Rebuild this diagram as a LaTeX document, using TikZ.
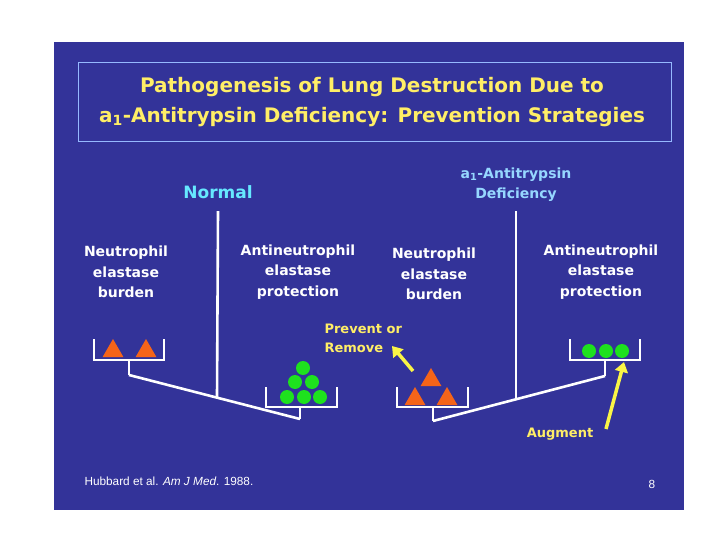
\documentclass[tikz,border=0pt]{standalone}
\usepackage{fontspec}
\setmainfont{DejaVu Sans}
\newfontfamily\citefont{Liberation Sans}
\usetikzlibrary{arrows.meta,positioning,shapes.geometric}
\definecolor{slideblue}{RGB}{51,51,153}
\definecolor{frameblue}{RGB}{150,185,255}
\definecolor{titleyellow}{RGB}{255,238,102}
\definecolor{normalcyan}{RGB}{102,232,255}
\definecolor{deficblue}{RGB}{150,215,255}
\definecolor{elastorange}{RGB}{245,100,25}
\definecolor{protgreen}{RGB}{30,225,30}
\definecolor{arrowyellow}{RGB}{250,245,70}
\tikzset{
  titletext/.style={font=\bfseries\fontsize{20}{30}\selectfont,text=titleyellow,align=center},
  sidehead/.style={font=\bfseries\fontsize{14}{20}\selectfont,align=center},
  lbltext/.style={font=\bfseries\fontsize{14}{20.5}\selectfont,text=white,align=center},
  notetext/.style={font=\bfseries\fontsize{13}{19}\selectfont,text=titleyellow,align=left},
  pan/.style={draw=white,line width=2.6pt},
  neutri/.style={regular polygon,regular polygon sides=3,fill=elastorange,minimum size=24pt,inner sep=0pt},
  antidot/.style={circle,fill=protgreen,minimum size=14pt,inner sep=0pt},
  yarrow/.style={-{Triangle[length=10pt,width=13pt]},draw=arrowyellow,line width=3.5pt}
}

\begin{document}
\begin{tikzpicture}[x=1pt,y=-1pt]
  \useasboundingbox (0,0) rectangle (720,540);
  \fill[slideblue] (54,42) rectangle (684,510);
  \draw[frameblue,line width=1pt] (78,63) rectangle (671,142);
  \node[titletext] (title) at (372,102) {Pathogenesis of Lung Destruction Due to\\a\textsubscript{1}-Antitrypsin Deficiency: Prevention Strategies};

  % normal
  \node[sidehead,text=normalcyan,font=\bfseries\fontsize{17}{20}\selectfont] (normal) at (218,192) {Normal};
  \node[lbltext] (n-burden) at (126,272) {Neutrophil\\elastase\\burden};
  \node[lbltext] (n-protect) at (298,272) {Antineutrophil\\elastase\\protection};
  \coordinate (n-pivot) at (217,398);
  \coordinate (nl-stem) at (129,375);
  \coordinate (nr-stem) at (300,419);
  \draw[pan] ([yshift=-9pt]normal.south) -- (n-pivot);
  \draw[pan] (nl-stem) -- (nr-stem);
  \draw[pan] (94,339) |- (164,360) -- (164,339);
  \draw[pan] (129,360) -- (nl-stem);
  \draw[pan] (266,387) |- (337,407) -- (337,387);
  \draw[pan] (300,407) -- (nr-stem);
  \node[neutri] (nt1) at (113,351) {};
  \node[neutri] (nt2) at (146,351) {};
  \node[antidot] (nd1) at (287,397) {};
  \node[antidot] (nd2) at (304,397) {};
  \node[antidot] (nd3) at (320,397) {};
  \node[antidot] (nd4) at (295,382) {};
  \node[antidot] (nd5) at (312,382) {};
  \node[antidot] (nd6) at (303,368) {};

  % deficiency
  \node[sidehead,text=deficblue] (defic) at (516,185) {a\textsubscript{1}-Antitrypsin\\Deficiency};
  \node[lbltext] (d-burden) at (434,274) {Neutrophil\\elastase\\burden};
  \node[lbltext] (d-protect) at (601,272) {Antineutrophil\\elastase\\protection};
  \coordinate (d-pivot) at (516,399);
  \coordinate (dl-stem) at (433,421);
  \coordinate (dr-stem) at (605,376);
  \draw[pan] ([yshift=-6pt]defic.south) -- (d-pivot);
  \draw[pan] (dl-stem) -- (dr-stem);
  \draw[pan] (397,387) |- (468,407) -- (468,387);
  \draw[pan] (433,407) -- (dl-stem);
  \draw[pan] (570,339) |- (640,360) -- (640,339);
  \draw[pan] (605,360) -- (dr-stem);
  \node[neutri] (dt1) at (415,399) {};
  \node[neutri] (dt2) at (447,399) {};
  \node[neutri] (dt3) at (431,380) {};
  \node[antidot] (dd1) at (589,351) {};
  \node[antidot] (dd2) at (606,351) {};
  \node[antidot] (dd3) at (622,351) {};

  % strategies
  \node[notetext,anchor=west] (prevent) at (321,338) {Prevent or\\Remove};
  \coordinate (prev-tail) at (413,371);
  \coordinate (prev-tip) at (392,346);
  \draw[yarrow] (prev-tail) -- (prev-tip);
  \node[notetext] (augment) at (560,434) {Augment};
  \coordinate (aug-tail) at (606,429);
  \coordinate (aug-tip) at (624,362);
  \draw[yarrow] (aug-tail) -- (aug-tip);

  \node[anchor=west,text=white,font=\citefont\fontsize{11.8}{13}\selectfont] (cite) at (81,481) {Hubbard et al. \textit{Am J Med}. 1988.};
  \node[text=white,font=\citefont\fontsize{11.8}{13}\selectfont] (pageno) at (652,484) {8};
\end{tikzpicture}
\end{document}
